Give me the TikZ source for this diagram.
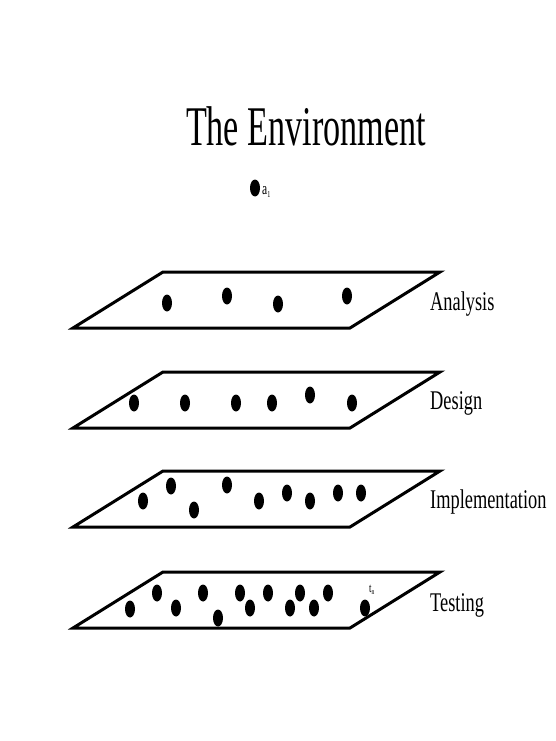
\documentclass[tikz,border=0pt]{standalone}
\usepackage{fontspec}
\setmainfont{Liberation Serif}
\usetikzlibrary{shapes.geometric}
\tikzset{
  dot/.style={ellipse, fill=black, draw=none, inner sep=0pt, minimum width=10pt, minimum height=17pt},
  plane/.style={line width=3pt, line join=miter},
  lbl/.style={anchor=base west, inner sep=0pt, font=\fontsize{27}{27}\selectfont},
}
\newcommand{\cond}[1]{\scalebox{0.68}[1]{#1}}
\begin{document}
\begin{tikzpicture}[x=1pt, y=-1pt]
\useasboundingbox (0,0) rectangle (555,741);
% title
\node[anchor=base, inner sep=0pt, font=\fontsize{56}{56}\selectfont] (title) at (306,145) {\scalebox{0.61}[1]{The Environment}};
% a1
\node[dot] (a1) at (255,188) {};
\node[anchor=base west, inner sep=0pt, font=\fontsize{17}{17}\selectfont] (a1lbl) at (262,194) {\cond{a}\raisebox{-3pt}{\fontsize{9}{9}\selectfont\cond{1}}};
% planes
\foreach \y/\n in {272/p1, 372/p2, 471/p3, 572/p4} {
  \draw[plane] (73,\y+56) -- (350,\y+56) -- (440,\y) -- (163,\y) -- cycle;
}
% labels
\node[lbl] (analysis) at (430,310) {\cond{Analysis}};
\node[lbl] (design) at (430,409) {\cond{Design}};
\node[lbl] (impl) at (430,508) {\cond{Implementation}};
\node[lbl] (testing) at (430,611) {\cond{Testing}};
% analysis dots
\foreach \x/\y [count=\i] in {167/303, 227/296, 278/304, 347/296} {
  \node[dot] (an\i) at (\x,\y) {};
}
% design dots
\foreach \x/\y [count=\i] in {134/403, 185/403, 236/403, 272/403, 310/395, 352/403} {
  \node[dot] (de\i) at (\x,\y) {};
}
% implementation dots
\foreach \x/\y [count=\i] in {143/501, 171/486, 194/510, 227/485, 259/501, 287/493, 310/501, 338/493, 361/493} {
  \node[dot] (im\i) at (\x,\y) {};
}
% testing dots
\foreach \x/\y [count=\i] in {130/609, 157/593, 176/608, 203/593, 218/618, 240/593, 250/608, 268/593, 290/608, 300/593, 314/608, 328/593, 365/608} {
  \node[dot] (te\i) at (\x,\y) {};
}
\node[anchor=base west, inner sep=0pt, font=\fontsize{13}{13}\selectfont] (tn) at (369,592) {\cond{t}\raisebox{-2pt}{\fontsize{8}{8}\selectfont\cond{n}}};
\end{tikzpicture}
\end{document}
